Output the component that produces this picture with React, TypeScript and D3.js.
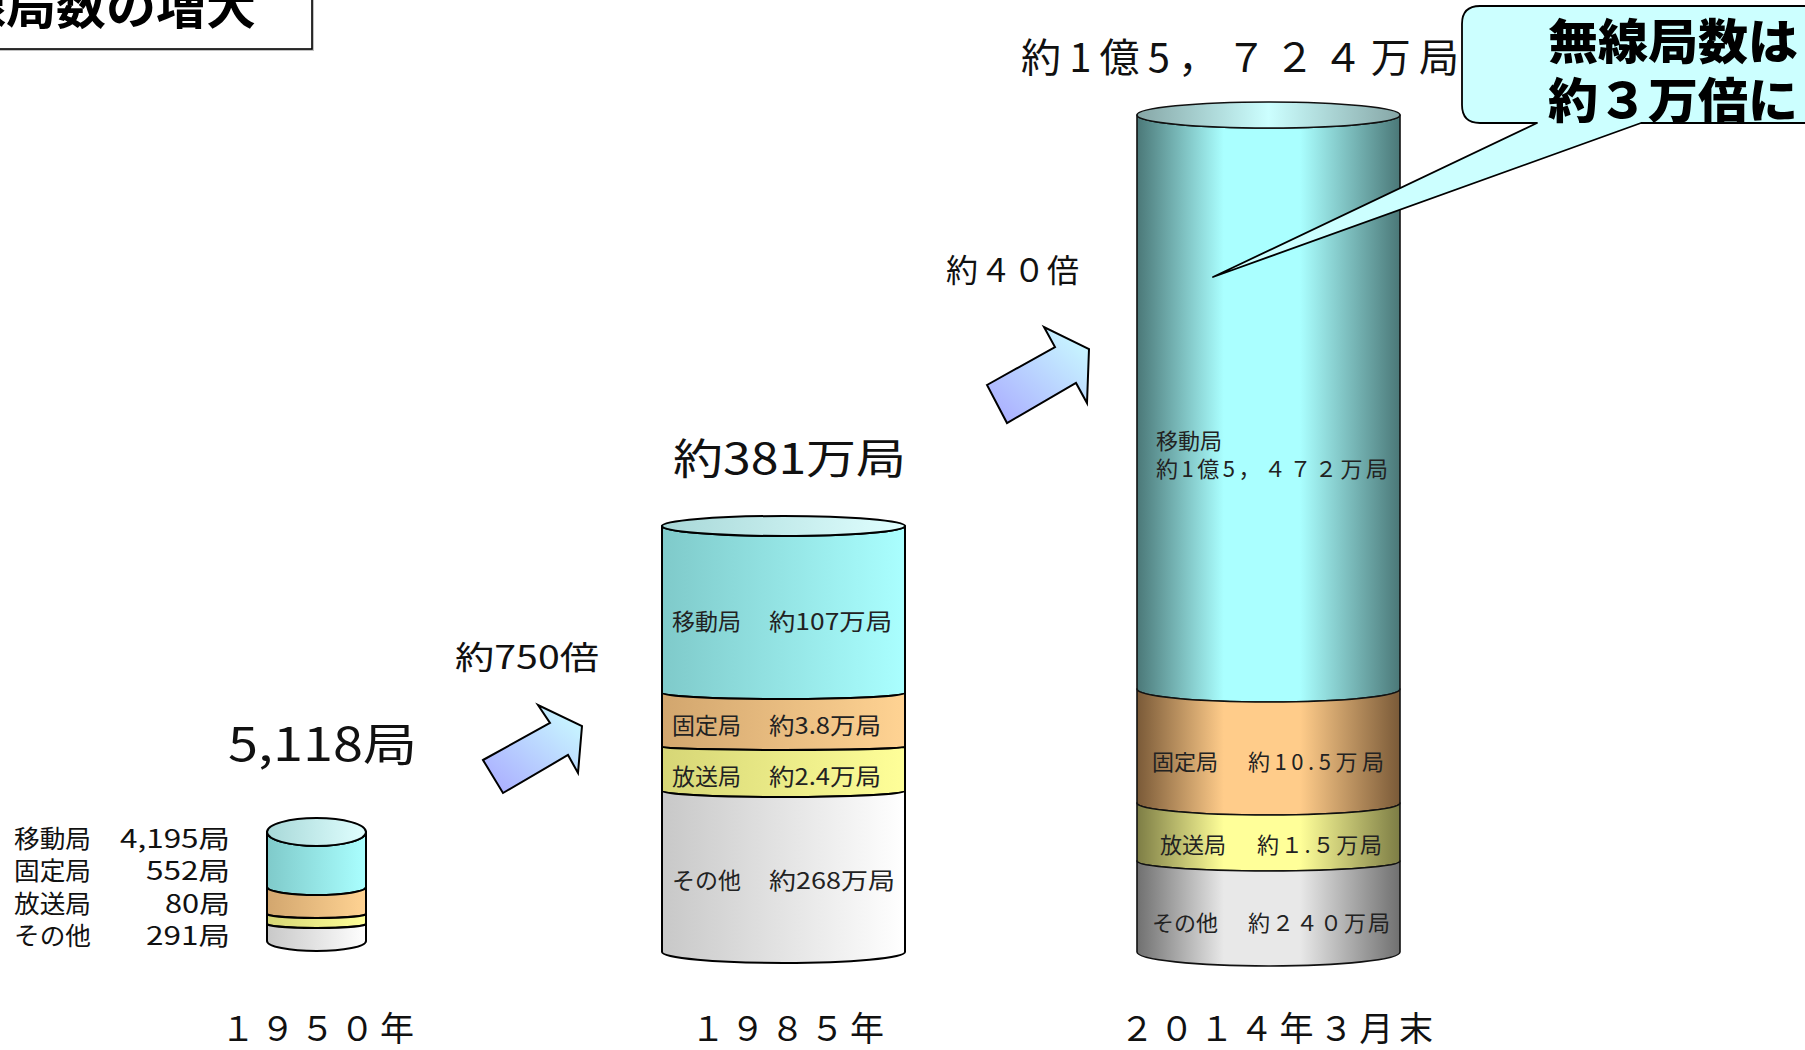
import React from 'react';
import * as d3 from 'd3';

// ---------------- data ----------------
const titleText = '無線局数の増大';
const categories = ['移動局', '固定局', '放送局', 'その他'];
const years = ['１９５０年', '１９８５年', '２０１４年３月末'];
const totals = ['5,118局', '約381万局', '約1億5，７２４万局'];
const values1950 = ['4,195局', '552局', '80局', '291局'];
const values1985 = ['約107万局', '約3.8万局', '約2.4万局', '約268万局'];
const values2014 = ['約1億5，４７２万局', '約10.5万局', '約１.５万局', '約２４０万局'];
const growthLabels = ['約750倍', '約４０倍'];
const calloutLines = ['無線局数は', '約３万倍に'];

// ---------------- layout (pictorial, not data-proportional) ----------------
const W = 1805;
const H = 1050;
const FONT = "'Noto Sans CJK JP', 'Noto Sans', sans-serif";

type Cyl = {
  xL: number; xR: number; top: number; ryTop: number;
  edges: number[]; // bottom edge y of each band (mobile, fixed, broadcast, other)
  ry: number[];
  symmetric: boolean;
  stroke: string; sw: number;
};

const cyls: Cyl[] = [
  { xL: 267, xR: 366, top: 832, ryTop: 14, edges: [887, 914, 924, 941], ry: [8, 4, 4, 10], symmetric: false, stroke: '#000', sw: 2 },
  { xL: 662, xR: 905, top: 526, ryTop: 10, edges: [693, 747, 791, 952], ry: [6, 3, 6, 11], symmetric: false, stroke: '#000', sw: 2 },
  { xL: 1137, xR: 1400, top: 115, ryTop: 13, edges: [689, 803, 861, 952], ry: [13, 12, 10, 14], symmetric: true, stroke: '#111', sw: 1.6 },
];

// gradient colours [dark, light]
const bandColors = [
  ['#7fcaca', '#aaffff'],
  ['#d2a66e', '#ffd393'],
  ['#d6d676', '#ffff99'],
  ['#c8c8c8', '#ffffff'],
];
const bandColorsSym = [
  ['#4b7878', '#aaffff'],
  ['#7a5a38', '#ffcc8a'],
  ['#7d7d45', '#ffff99'],
  ['#707070', '#e8e8e8'],
];
const capColors = ['#a8d8d8', '#e0ffff'];
const capColorsSym = ['#86a6a6', '#ccffff'];

// label placement
const legendValueWidths = [110, 84, 65, 84];
const labelY1985 = [620, 724, 775, 879];
const valueW1985 = [123, 112, 112, 126];

function bandPath(xL: number, xR: number, yT: number, ryT: number, yB: number, ryB: number) {
  const rx = (xR - xL) / 2;
  return `M${xL},${yT} L${xL},${yB} A${rx},${ryB} 0 0 0 ${xR},${yB} L${xR},${yT} A${rx},${ryT} 0 0 1 ${xL},${yT} Z`;
}

const arrows = [
  [[483, 760], [550, 723], [538, 705], [582, 726], [578, 773], [568, 755], [503, 793]],
  [[987, 385], [1055, 347], [1044, 327], [1089, 349], [1087, 403], [1076, 383], [1007, 423]],
];

export default function App() {
  const line = d3.line();
  return (
    <div style={{ position: 'absolute', left: 0, top: 0, background: '#fff' }}>
      <svg width={W} height={H} viewBox={`0 0 ${W} ${H}`} style={{ display: 'block', fontFamily: FONT }}>
        <defs>
          {cyls.map((c, ci) =>
            categories.map((_, bi) => {
              const [dk, lt] = c.symmetric ? bandColorsSym[bi] : bandColors[bi];
              return (
                <linearGradient key={`g${ci}${bi}`} id={`g${ci}_${bi}`} x1="0" y1="0" x2="1" y2="0">
                  {c.symmetric ? (
                    <>
                      <stop offset="0" stopColor={dk} />
                      <stop offset="0.33" stopColor={lt} />
                      <stop offset="0.62" stopColor={lt} />
                      <stop offset="1" stopColor={dk} />
                    </>
                  ) : (
                    <>
                      <stop offset="0" stopColor={dk} />
                      <stop offset="1" stopColor={lt} />
                    </>
                  )}
                </linearGradient>
              );
            })
          )}
          {cyls.map((c, ci) => {
            const [dk, lt] = c.symmetric ? capColorsSym : capColors;
            return (
              <linearGradient key={`cap${ci}`} id={`cap${ci}`} x1="0" y1="0" x2="1" y2="0">
                {c.symmetric ? (
                  <>
                    <stop offset="0" stopColor={dk} />
                    <stop offset="0.5" stopColor={lt} />
                    <stop offset="1" stopColor={dk} />
                  </>
                ) : (
                  <>
                    <stop offset="0" stopColor={dk} />
                    <stop offset="1" stopColor={lt} />
                  </>
                )}
              </linearGradient>
            );
          })}
          <linearGradient id="arrowGrad" x1="0" y1="1" x2="1" y2="0">
            <stop offset="0" stopColor="#a8a8ff" />
            <stop offset="1" stopColor="#ccffff" />
          </linearGradient>
        </defs>

        {/* title box (clipped at top-left) */}
        <rect x={-20} y={-20} width={334} height={71} fill="#999" opacity={0.6} />
        <rect x={-20} y={-20} width={332} height={69} fill="#fff" stroke="#000" strokeWidth={1.6} />
        <text x={256} y={24} textAnchor="end" fontSize={48} fontWeight={700} fill="#000" textLength={350} lengthAdjust="spacingAndGlyphs">
          {titleText}
        </text>

        {/* cylinders */}
        {cyls.map((c, ci) => {
          const rx = (c.xR - c.xL) / 2;
          const cx = (c.xL + c.xR) / 2;
          return (
            <g key={`cyl${ci}`}>
              {categories.map((_, bi) => {
                const yT = bi === 0 ? c.top : c.edges[bi - 1];
                const ryT = bi === 0 ? c.ryTop : c.ry[bi - 1];
                return (
                  <path key={bi} d={bandPath(c.xL, c.xR, yT, ryT, c.edges[bi], c.ry[bi])}
                    fill={`url(#g${ci}_${bi})`} stroke={c.stroke} strokeWidth={c.sw} strokeLinejoin="round" />
                );
              })}
              <ellipse cx={cx} cy={c.top} rx={rx} ry={c.ryTop} fill={`url(#cap${ci})`} stroke={c.stroke} strokeWidth={c.sw} />
            </g>
          );
        })}

        {/* arrows */}
        {arrows.map((pts, i) => (
          <path key={`ar${i}`} d={line(pts as [number, number][]) + 'Z'} fill="url(#arrowGrad)" stroke="#000" strokeWidth={2} strokeLinejoin="miter" />
        ))}
        <text x={455} y={655} dominantBaseline="central" fontSize={32} fill="#111" textLength={144} lengthAdjust="spacingAndGlyphs">{growthLabels[0]}</text>
        <text x={946} y={268} dominantBaseline="central" fontSize={32} fill="#111" textLength={133} lengthAdjust="spacing">{growthLabels[1]}</text>

        {/* totals */}
        <text x={228} y={741} dominantBaseline="central" fontSize={46} fill="#111" textLength={189} lengthAdjust="spacingAndGlyphs">{totals[0]}</text>
        <text x={673} y={455} dominantBaseline="central" fontSize={42} fill="#111" textLength={233} lengthAdjust="spacingAndGlyphs">{totals[1]}</text>
        <text x={1021} y={55} dominantBaseline="central" fontSize={40} fill="#111" textLength={438} lengthAdjust="spacing">{totals[2]}</text>

        {/* 1950 legend */}
        {categories.map((cat, i) => (
          <g key={`lg${i}`}>
            <text x={14} y={837 + i * 32.3} dominantBaseline="central" fontSize={25} fill="#111" textLength={77} lengthAdjust="spacingAndGlyphs">{cat}</text>
            <text x={230 - legendValueWidths[i]} y={837 + i * 32.3} dominantBaseline="central" fontSize={25} fill="#111"
              textLength={legendValueWidths[i]} lengthAdjust="spacingAndGlyphs">{values1950[i]}</text>
          </g>
        ))}

        {/* 1985 band labels */}
        {categories.map((cat, i) => (
          <g key={`l85${i}`}>
            <text x={672} y={labelY1985[i]} dominantBaseline="central" fontSize={23} fill="#222">{cat}</text>
            <text x={769} y={labelY1985[i]} dominantBaseline="central" fontSize={23} fill="#222"
              textLength={valueW1985[i]} lengthAdjust="spacingAndGlyphs">{values1985[i]}</text>
          </g>
        ))}

        {/* 2014 band labels */}
        <text x={1156} y={439} dominantBaseline="central" fontSize={22} fill="#222">{categories[0]}</text>
        <text x={1156} y={467} dominantBaseline="central" fontSize={22} fill="#222" textLength={232} lengthAdjust="spacing">{values2014[0]}</text>
        {[1, 2, 3].map((i) => {
          const ys = [0, 760, 843, 921];
          const xs = [0, 1152, 1160, 1152];
          const vx = [0, 1248, 1257, 1248];
          const vw = [0, 136, 125, 142];
          return (
            <g key={`l14${i}`}>
              <text x={xs[i]} y={ys[i]} dominantBaseline="central" fontSize={22} fill="#222">{categories[i]}</text>
              <text x={vx[i]} y={ys[i]} dominantBaseline="central" fontSize={22} fill="#222" textLength={vw[i]} lengthAdjust="spacing">{values2014[i]}</text>
            </g>
          );
        })}

        {/* year labels */}
        <text x={221} y={1026} dominantBaseline="central" fontSize={34} fill="#111" textLength={193} lengthAdjust="spacing">{years[0]}</text>
        <text x={691} y={1026} dominantBaseline="central" fontSize={34} fill="#111" textLength={193} lengthAdjust="spacing">{years[1]}</text>
        <text x={1120} y={1026} dominantBaseline="central" fontSize={34} fill="#111" textLength={313} lengthAdjust="spacing">{years[2]}</text>

        {/* callout */}
        <path
          d={`M1480,6 L1830,6 L1830,123 L1641,123 L1213,277 L1537,123 L1480,123 Q1462,123 1462,105 L1462,24 Q1462,6 1480,6 Z`}
          fill="#ccffff" stroke="#000" strokeWidth={1.8} strokeLinejoin="round"
        />
        <text x={1548} y={38} dominantBaseline="central" fontSize={48} fontWeight={900} fill="#000" textLength={250} lengthAdjust="spacingAndGlyphs">{calloutLines[0]}</text>
        <text x={1548} y={97} dominantBaseline="central" fontSize={48} fontWeight={900} fill="#000" textLength={250} lengthAdjust="spacingAndGlyphs">{calloutLines[1]}</text>
      </svg>
    </div>
  );
}
